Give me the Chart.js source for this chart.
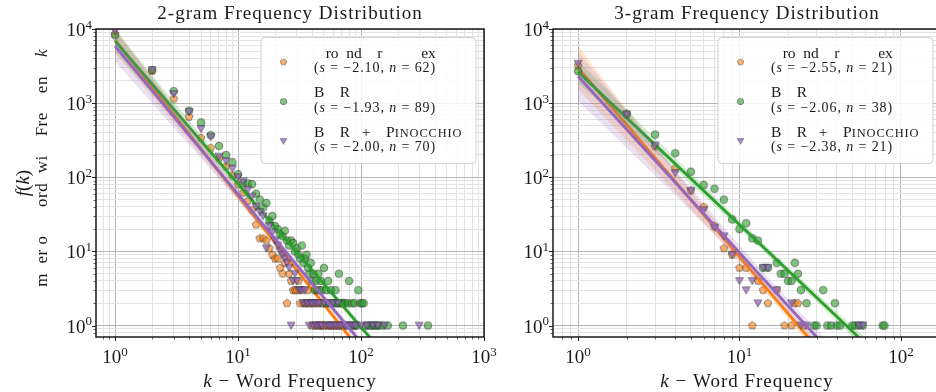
<!DOCTYPE html>
<html>
<head>
<meta charset="utf-8">
<title>n-gram Frequency Distributions</title>
<script src="https://cdn.jsdelivr.net/npm/chart.js@4.4.1/dist/chart.umd.min.js"></script>
<style>
  html, body { margin: 0; padding: 0; background: #ffffff; width: 936px; height: 392px; overflow: hidden; position: relative; }
  canvas { position: absolute; top: 0; }
  #bigram { left: 0; }
  #trigram { left: 480px; }
</style>
</head>
<body>
<canvas id="bigram" width="520" height="392"></canvas>
<canvas id="trigram" width="470" height="392"></canvas>
<script>
// ---------------- data ----------------
// k = occurrence count, f = number of items seen exactly k times
const seriesLabels = ['   ro  nd    r          ex', 'B    R', 'B    R   +    PINOCCHIO'];
const panelTitles = ['2-gram Frequency Distribution', '3-gram Frequency Distribution'];
const xTitle = ' \u2212 Word Frequency';
const yLabelLine = '     m  er o      ord  wi    Fre    en    ';

const bigramGroundK = [1,2,3,4,5,6,7,8,9,10,11,12,13,14,15,16,17,18,19,20,21,22,23,24,25,26,27,28,29,30,31,32,33,34,35,36,37,38,39,40,41,42,43,44,45,46,47,48,49,50,52,53,55,56,58,60,62,64,66,68,70,72];
const bigramGroundF = [8600,2700,1150,650,340,250,180,140,105,80,62,48,36,23,15,15,14,11,9,8,8,6,5,7,2,5,4,3,3,3,4,2,3,2,2,2,3,2,2,1,2,1,2,1,2,1,1,2,1,1,2,1,1,1,1,1,1,1,1,1,1,1];

const bigramBaseK = [1,2,3,4,5,6,7,8,9,10,11,12,13,14,15,16,17,18,19,20,21,22,23,24,25,26,27,28,29,30,31,32,33,34,35,36,37,38,39,40,41,42,43,44,45,46,47,48,49,50,52,53,54,56,57,58,60,62,63,65,66,68,70,72,74,76,78,80,82,84,86,88,90,92,95,98,102,105,110,115,120,125,130,135,140,150,165,219,350];
const bigramBaseF = [8200,2800,1450,790,550,370,265,200,160,110,83,83,81,60,50,39,45,26,30,22,20,17,16,19,14,12,14,13,10,11,9,8,12,7,8,9,6,5,7,4,5,3,4,3,5,3,4,3,2,6,3,2,4,2,3,2,2,3,2,2,5,2,2,2,2,1,2,4,1,2,1,2,1,1,3,2,2,2,1,1,1,1,1,1,1,1,1,1,1];

const bigramPinK = [1,2,3,4,5,6,7,8,9,10,11,12,13,14,15,16,17,18,19,20,21,22,23,24,25,26,27,28,29,30,31,32,33,34,35,36,37,38,39,40,41,42,43,44,45,46,47,48,50,52,54,55,57,59,60,63,65,67,70,74,78,82,86,90,100,112,125,137,155,297];
const bigramPinF = [9400,2800,1330,760,450,350,190,165,130,100,88,68,55,40,34,30,11,22,18,14,12,10,9,8,7,6,1,4,5,4,3,3,3,2,3,2,2,1,2,2,1,2,1,2,1,2,1,1,2,1,2,1,1,2,1,1,2,1,1,1,1,1,1,1,1,1,1,1,1,1];

const trigramGroundK = [1,2,3,4,5,6,7,8,9,10,11,12,13,14,15,17,19,21,22,23,25];
const trigramGroundF = [3200,700,260,133,66,40,22,11,9,6,6,1,4,3,2,3,1,1,2,2,1];

const trigramBaseK = [1,2,3,4,5,6,7,8,9,10,11,12,13,14,15,17,18,19,20,21,22,23,24,26,29,30,33,35,37,39,40,42,50,52,55,58,77,79];
const trigramBaseF = [2700,720,376,211,119,79,70,50,27,20,24,15,14,6,6,7,5,5,4,4,7,5,3,2,1,1,3,1,1,2,1,1,1,1,1,1,1,1];

const trigramPinK = [1,2,3,4,5,6,7,8,9,10,11,12,13,14,15,17,21,24,26,55,58];
const trigramPinF = [3400,700,267,114,66,36,21,16,9,4,3,4,2,6,6,3,2,1,1,1,1];

// power-law fits f(k) = C * k^s
const bigramSlopes = [-2.10, -1.93, -2.00];
const bigramPoints = [62, 89, 70];
const bigramScale = [7100, 6900, 5900];
const trigramSlopes = [-2.55, -2.06, -2.38];
const trigramPoints = [21, 38, 21];
const trigramScale = [3000, 2640, 2300];

// confidence band half-widths (decades) at these k
const bigramBandK = [1, 2, 4, 8, 16, 32, 64, 128, 256, 512];
const bigramBandGround = [0.17, 0.13, 0.10, 0.07, 0.05, 0.04, 0.045, 0.06, 0.08, 0.10];
const bigramBandBase = [0.15, 0.12, 0.09, 0.065, 0.045, 0.035, 0.04, 0.05, 0.065, 0.08];
const bigramBandPin = [0.21, 0.17, 0.13, 0.09, 0.06, 0.05, 0.05, 0.06, 0.08, 0.10];
const trigramBandK = [1, 2, 4, 8, 16, 32, 64];
const trigramBandGround = [0.29, 0.21, 0.14, 0.09, 0.07, 0.08, 0.11];
const trigramBandBase = [0.15, 0.11, 0.08, 0.06, 0.05, 0.06, 0.08];
const trigramBandPin = [0.33, 0.25, 0.17, 0.11, 0.08, 0.10, 0.13];

// axis decades carrying a 10^n label
const bigramXDecades = [0, 1, 2, 3];
const trigramXDecades = [0, 1, 2];
const yDecades = [0, 1, 2, 3, 4];

// ---------------- styling ----------------
const LINE_COLORS = ['#ff7f0e', '#2ca02c', '#9467bd'];
const BAND_COLORS = ['rgba(255,127,14,0.2)', 'rgba(44,160,44,0.2)', 'rgba(148,103,189,0.2)'];
const MARKER_FILLS = ['rgba(255,127,14,0.6)', 'rgba(44,160,44,0.6)', 'rgba(148,103,189,0.75)'];
const MARKER_EDGE = 'rgba(45,45,45,0.75)';
const SERIF = '"Liberation Serif", "DejaVu Serif", serif';
const TEXT = '#1a1a1a';
const F = (size, style) => `${style || ''} ${size}px ${SERIF}`.trim();

function makeMarker(shape, fill, r) {
  const c = document.createElement('canvas');
  const s = 12;
  c.width = c.height = s;
  const g = c.getContext('2d');
  const cx = s / 2, cy = s / 2;
  g.beginPath();
  if (shape === 'circle') {
    g.arc(cx, cy, r, 0, 2 * Math.PI);
  } else {
    const n = shape === 'pentagon' ? 5 : 3;
    const a0 = shape === 'pentagon' ? -Math.PI / 2 : Math.PI / 2;
    for (let i = 0; i < n; i++) {
      const a = a0 + i * 2 * Math.PI / n;
      g.lineTo(cx + r * Math.cos(a), cy + r * Math.sin(a) - (n === 3 ? r * 0.2 : 0));
    }
    g.closePath();
  }
  g.fillStyle = fill;
  g.fill();
  g.lineWidth = 0.7;
  g.strokeStyle = MARKER_EDGE;
  g.stroke();
  return c;
}
const MARKERS = [
  makeMarker('pentagon', MARKER_FILLS[0], 4.0),
  makeMarker('circle', MARKER_FILLS[1], 3.8),
  makeMarker('triangle', MARKER_FILLS[2], 4.6)
];

// ---------------- text helpers ----------------
function runsWidth(ctx, runs) {
  let w = 0;
  for (const r of runs) {
    ctx.font = r.f;
    ctx.letterSpacing = (r.ls || 0) + 'px';
    w += ctx.measureText(r.t).width;
  }
  return w;
}
function drawRuns(ctx, runs, x, y, align) {
  ctx.save();
  ctx.textAlign = 'left';
  ctx.textBaseline = 'alphabetic';
  ctx.fillStyle = TEXT;
  const w = runsWidth(ctx, runs);
  let cx = align === 'center' ? x - w / 2 : align === 'right' ? x - w : x;
  for (const r of runs) {
    ctx.font = r.f;
    ctx.letterSpacing = (r.ls || 0) + 'px';
    ctx.fillText(r.t, cx, y + (r.dy || 0));
    cx += ctx.measureText(r.t).width;
  }
  ctx.restore();
}
// words written in capitals get small caps after their first letter
function labelRuns(text, size) {
  const runs = [];
  const parts = text.split(/([A-Z][A-Z]{2,})/);
  for (const p of parts) {
    if (!p) continue;
    if (/^[A-Z]{3,}$/.test(p)) {
      runs.push({ t: p[0], f: F(size) });
      runs.push({ t: p.slice(1), f: F(size * 0.8), ls: 0.9 });
    } else {
      runs.push({ t: p, f: F(size) });
    }
  }
  return runs;
}
function statRuns(s, n) {
  const sz = 14, ls = 0.9;
  const sv = (s < 0 ? '\u2212' : '') + Math.abs(s).toFixed(2);
  return [
    { t: '(', f: F(sz), ls },
    { t: 's', f: F(sz, 'italic'), ls },
    { t: ' = ' + sv + ', ', f: F(sz), ls },
    { t: 'n', f: F(sz, 'italic'), ls },
    { t: ' = ' + n + ')', f: F(sz), ls }
  ];
}

function isDecade(v) {
  const l = Math.log10(v);
  return Math.abs(l - Math.round(l)) < 1e-6;
}
function logTicks(min, max) {
  const out = [];
  for (let e = Math.floor(Math.log10(min)); e <= Math.ceil(Math.log10(max)); e++) {
    for (let m = 1; m < 10; m++) {
      const v = +(m * Math.pow(10, e)).toPrecision(6);
      if (v > min * 1.0001 && v <= max * 1.0001) out.push(v);
    }
  }
  return out;
}

// ---------------- panel builder ----------------
function buildPanel(p) {
  const datasets = [];
  for (let i = 0; i < 3; i++) {
    const fit = k => p.scale[i] * Math.pow(k, p.slopes[i]);
    const spread = p.bandSpread[i];
    datasets.push({
      type: 'line',
      data: p.bandK.map((k, j) => ({ x: k, y: fit(k) / Math.pow(10, spread[j]) })),
      borderColor: 'rgba(0,0,0,0)', borderWidth: 0, pointRadius: 0, fill: false
    });
    datasets.push({
      type: 'line',
      data: p.bandK.map((k, j) => ({ x: k, y: fit(k) * Math.pow(10, spread[j]) })),
      borderColor: 'rgba(0,0,0,0)', borderWidth: 0, pointRadius: 0,
      fill: '-1', backgroundColor: BAND_COLORS[i]
    });
    datasets.push({
      type: 'scatter',
      data: p.ks[i].map((k, j) => ({ x: k, y: p.fs[i][j] })),
      pointStyle: MARKERS[i], pointRadius: 4, showLine: false
    });
    const k0 = p.bandK[0], k1 = p.bandK[p.bandK.length - 1];
    datasets.push({
      type: 'line',
      data: [{ x: k0, y: fit(k0) }, { x: k1, y: fit(k1) }],
      borderColor: LINE_COLORS[i], borderWidth: 2.8, pointRadius: 0, fill: false
    });
  }
  datasets.forEach((d, idx) => { d.order = 100 - idx; });

  const gridColor = c => (c.tick && isDecade(c.tick.value)) ? '#b4b4b4' : '#e3e3e3';
  const axis = (min, max, fitFn) => ({
    type: 'logarithmic', min, max,
    afterBuildTicks: s => { s.ticks = logTicks(min, max).map(v => ({ value: v })); },
    afterFit: fitFn,
    ticks: { display: false },
    grid: { color: gridColor, lineWidth: 1, drawTicks: false },
    border: { display: false }
  });

  const decor = {
    id: 'decor',
    afterDatasetsDraw(chart) {
      const ctx = chart.ctx;
      const a = chart.chartArea;
      const xs = chart.scales.x, ys = chart.scales.y;
      ctx.save();
      // tick marks
      ctx.strokeStyle = '#222';
      for (const t of xs.ticks) {
        const major = isDecade(t.value);
        const px = Math.round(xs.getPixelForValue(t.value)) + 0.5;
        ctx.lineWidth = major ? 1 : 0.7;
        ctx.beginPath(); ctx.moveTo(px, a.bottom); ctx.lineTo(px, a.bottom + (major ? 4 : 2.5)); ctx.stroke();
      }
      for (const t of ys.ticks) {
        const major = isDecade(t.value);
        const py = Math.round(ys.getPixelForValue(t.value)) + 0.5;
        ctx.lineWidth = major ? 1 : 0.7;
        ctx.beginPath(); ctx.moveTo(a.left, py); ctx.lineTo(a.left - (major ? 4 : 2.5), py); ctx.stroke();
      }
      // frame
      ctx.lineWidth = 1.5;
      ctx.strokeStyle = '#1a1a1a';
      ctx.strokeRect(a.left, a.top, a.right - a.left, a.bottom - a.top);
      ctx.restore();

      // tick labels
      for (const e of p.xDecades) {
        const px = xs.getPixelForValue(Math.pow(10, e));
        drawRuns(ctx, [{ t: '10', f: F(19) }, { t: String(e), f: F(13), dy: -7.5 }], px, 363, 'center');
      }
      for (const e of yDecades) {
        const py = ys.getPixelForValue(Math.pow(10, e));
        drawRuns(ctx, [{ t: '10', f: F(19) }, { t: String(e), f: F(13), dy: -7.5 }], a.left - 4, py + 7, 'right');
      }

      // titles
      const cx = (a.left + a.right) / 2;
      drawRuns(ctx, [{ t: p.title, f: F(19), ls: 1 }], cx, 18.5, 'center');
      drawRuns(ctx, [{ t: 'k', f: F(19, 'italic'), ls: 1 }, { t: xTitle, f: F(19), ls: 1 }], cx, 387, 'center');

      if (p.yLabel) {
        const cy = (a.top + a.bottom) / 2;
        ctx.save();
        ctx.translate(29, cy);
        ctx.rotate(-Math.PI / 2);
        drawRuns(ctx, [
          { t: 'f', f: F(19, 'italic') }, { t: '(', f: F(19) },
          { t: 'k', f: F(19, 'italic') }, { t: ')', f: F(19) }
        ], 0, 0, 'center');
        ctx.restore();
        ctx.save();
        ctx.translate(47, cy - 3);
        ctx.rotate(-Math.PI / 2);
        drawRuns(ctx, [{ t: yLabelLine, f: F(17), ls: 0.5 }, { t: 'k', f: F(17, 'italic') }], 0, 0, 'center');
        ctx.restore();
      }

      // legend
      const bw = 215, bh = 126;
      const bx = a.right - 8.5 - bw, by = a.top + 8;
      ctx.save();
      ctx.beginPath();
      ctx.roundRect(bx + 0.5, by + 0.5, bw, bh, 4);
      ctx.fillStyle = 'rgba(255,255,255,0.85)';
      ctx.fill();
      ctx.lineWidth = 1;
      ctx.strokeStyle = '#cfcfcf';
      ctx.stroke();
      ctx.restore();
      for (let i = 0; i < 3; i++) {
        const y0 = by + i * 39.6;
        const m = MARKERS[i];
        const ms = 10;
        ctx.drawImage(m, bx + 23 - ms / 2, y0 + 25 - ms / 2, ms, ms);
        drawRuns(ctx, labelRuns(seriesLabels[i], 15.5), bx + 53.5, y0 + 20.5, 'left');
        drawRuns(ctx, statRuns(p.slopes[i], p.points[i]), bx + 53.5, y0 + 35, 'left');
      }
    }
  };

  return new Chart(document.getElementById(p.canvas), {
    type: 'scatter',
    data: { datasets },
    options: {
      responsive: false,
      animation: false,
      devicePixelRatio: 1,
      events: [],
      layout: { padding: { left: 0, top: 29, right: p.padRight, bottom: 0 } },
      plugins: { legend: { display: false }, tooltip: { enabled: false } },
      scales: {
        x: axis(p.xMin, p.xMax, s => { s.height = 55; s.paddingLeft = 0; s.paddingRight = 0; }),
        y: axis(0.71, 10000, s => { s.width = p.yWidth; s.paddingTop = 0; s.paddingBottom = 0; })
      }
    },
    plugins: [decor]
  });
}

buildPanel({
  canvas: 'bigram', title: panelTitles[0], yLabel: true,
  ks: [bigramGroundK, bigramBaseK, bigramPinK],
  fs: [bigramGroundF, bigramBaseF, bigramPinF],
  slopes: bigramSlopes, points: bigramPoints, scale: bigramScale,
  bandK: bigramBandK, bandSpread: [bigramBandGround, bigramBandBase, bigramBandPin],
  xMin: 0.714, xMax: 1000, xDecades: bigramXDecades,
  yWidth: 96, padRight: 36
});
buildPanel({
  canvas: 'trigram', title: panelTitles[1], yLabel: false,
  ks: [trigramGroundK, trigramBaseK, trigramPinK],
  fs: [trigramGroundF, trigramBaseF, trigramPinF],
  slopes: trigramSlopes, points: trigramPoints, scale: trigramScale,
  bandK: trigramBandK, bandSpread: [trigramBandGround, trigramBandBase, trigramBandPin],
  xMin: 0.70, xMax: 177, xDecades: trigramXDecades,
  yWidth: 73, padRight: 9
});
</script>
</body>
</html>
